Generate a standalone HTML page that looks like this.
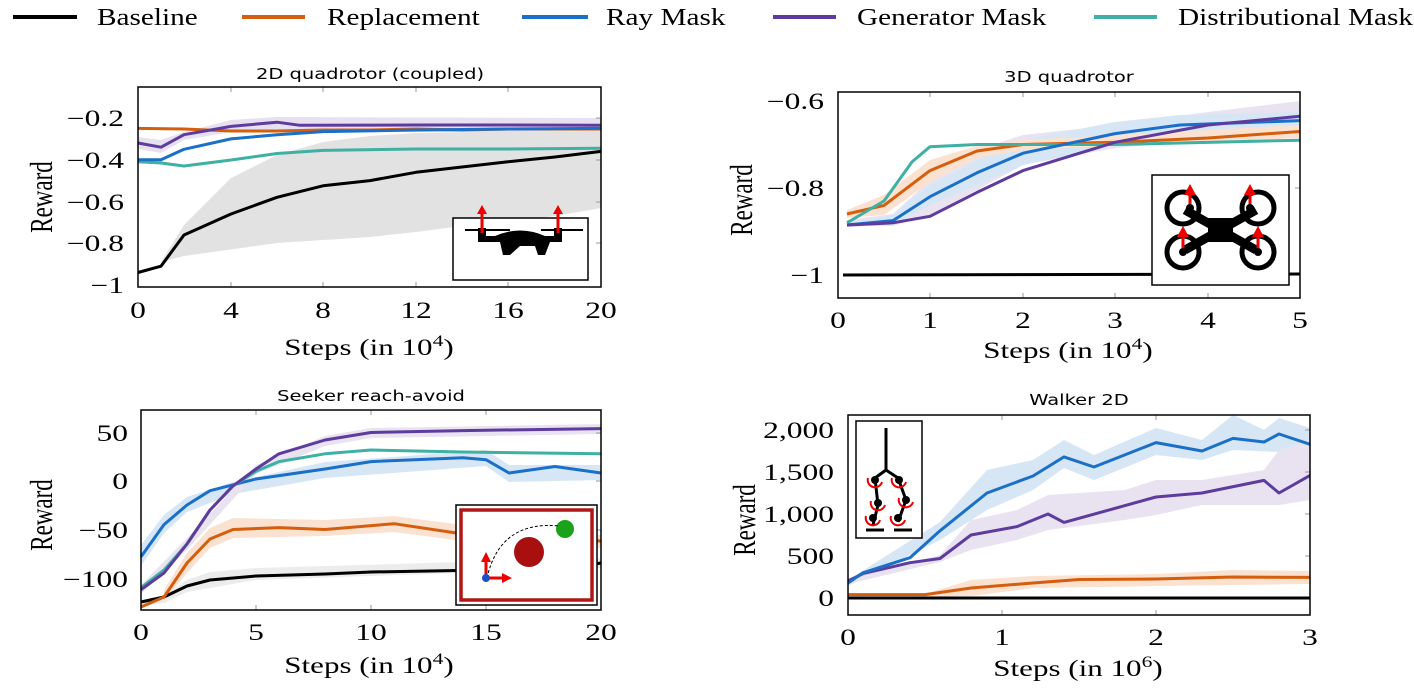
<!DOCTYPE html>
<html><head><meta charset="utf-8"><style>
html,body{margin:0;padding:0;background:#fff;}
svg{display:block;}
.t{font-family:"Liberation Serif",serif;font-size:23px;fill:#000;}
.ti{font-family:"DejaVu Sans","Liberation Sans",sans-serif;font-size:15px;fill:#000;}
.l{fill:none;stroke-width:3;stroke-linejoin:round;}
</style></head><body>
<svg width="1414" height="698" viewBox="0 0 1414 698" xmlns="http://www.w3.org/2000/svg">
<!-- Legend -->
<g class="t" style="font-size:24px">
<line x1="13" y1="17" x2="77" y2="17" stroke="#000" stroke-width="4"/><text transform="translate(97,25) scale(1.22,1)">Baseline</text>
<line x1="242" y1="17" x2="305" y2="17" stroke="#d55e0e" stroke-width="4"/><text transform="translate(327,25) scale(1.22,1)">Replacement</text>
<line x1="522" y1="17" x2="588" y2="17" stroke="#1a6fc8" stroke-width="4"/><text transform="translate(606,25) scale(1.22,1)">Ray Mask</text>
<line x1="773" y1="17" x2="836" y2="17" stroke="#5e3c9e" stroke-width="4"/><text transform="translate(857,25) scale(1.22,1)">Generator Mask</text>
<line x1="1094" y1="17" x2="1157" y2="17" stroke="#3fb0a3" stroke-width="4"/><text transform="translate(1178,25) scale(1.22,1)">Distributional Mask</text>
</g>

<!-- ===== Top-left ===== -->
<text class="ti" text-anchor="middle" transform="translate(370,79) scale(1.3,1)">2D quadrotor (coupled)</text>
<path d="M138,272 L161,262 184,225 231,178 277,155 323,142 370,136 416,133 601,130 L601,208 555,216 508,222 462,226 416,232 370,237 277,243 184,256 161,262 Z" fill="#e2e2e2"/>
<path d="M138,137 L161,140 184,132 231,120 277,117 601,118 L601,132 277,132 231,132 184,140 161,153 138,149Z" fill="#e6e0f0"/>
<g stroke="#999" stroke-width="1">
<line x1="231" y1="87" x2="231" y2="92"/><line x1="323" y1="87" x2="323" y2="92"/><line x1="416" y1="87" x2="416" y2="92"/><line x1="508" y1="87" x2="508" y2="92"/>
<line x1="231" y1="287" x2="231" y2="282"/><line x1="323" y1="287" x2="323" y2="282"/><line x1="416" y1="287" x2="416" y2="282"/><line x1="508" y1="287" x2="508" y2="282"/>
<line x1="596" y1="118" x2="601" y2="118"/><line x1="596" y1="160" x2="601" y2="160"/><line x1="596" y1="202" x2="601" y2="202"/><line x1="596" y1="243" x2="601" y2="243"/>
</g>
<polyline class="l" stroke="#d55e0e" points="138,128.4 184,129 231,131 277,131 323,130 370,130 416,129 462,130 508,129 555,129 601,129"/>
<polyline class="l" stroke="#3fb0a3" points="138,161.8 161,163 184,166 231,160 277,153.5 323,150.4 416,149 508,149 601,148.3"/>
<polyline class="l" stroke="#1a6fc8" points="138,159.8 161,159.8 184,149.3 231,138.9 277,134.7 323,131.6 416,130 508,129 601,128.4"/>
<polyline class="l" stroke="#5e3c9e" points="138,143 161,147.2 184,134.7 231,126.4 277,122.2 300,125.3 416,125 508,125 601,125.3"/>
<polyline class="l" stroke="#000" points="138,272.5 161,266.2 184,235 231,214 277,197.3 323,185.8 370,180.6 416,172.3 462,167 508,161.8 555,157 601,151.4"/>
<rect x="453" y="218" width="135" height="62" fill="#fff" stroke="#000" stroke-width="1.5"/>
<g fill="#000">
<path d="M465,229 L510,229 L510,231 L465,231Z M541,229 L583,229 L583,231 L541,231Z"/>
<path d="M478,236 L495,236 Q520,225 545,236 L562,236 L562,242 L550,242 L545,255 L538,255 L535,246 L525,246 L520,246 L510,255 L503,255 L500,242 L478,242Z"/>
<rect x="478" y="228" width="8" height="10"/><rect x="554" y="228" width="8" height="10"/>
</g>
<g stroke="#e00" stroke-width="3" fill="#e00">
<line x1="482" y1="233" x2="482" y2="213"/><path d="M477,214 L482,205 L487,214Z" stroke="none"/>
<line x1="558" y1="233" x2="558" y2="213"/><path d="M553,214 L558,205 L563,214Z" stroke="none"/>
</g>
<rect x="138" y="87" width="463" height="200" fill="none" stroke="#000" stroke-width="1.5"/>
<g class="t" text-anchor="end">
<text transform="translate(124,126) scale(1.37,1)">−0.2</text><text transform="translate(124,168) scale(1.37,1)">−0.4</text><text transform="translate(124,210) scale(1.37,1)">−0.6</text><text transform="translate(124,251) scale(1.37,1)">−0.8</text><text transform="translate(124,293) scale(1.37,1)">−1</text>
</g>
<g class="t" text-anchor="middle">
<text transform="translate(138,318) scale(1.37,1)">0</text><text transform="translate(231,318) scale(1.37,1)">4</text><text transform="translate(323,318) scale(1.37,1)">8</text><text transform="translate(416,318) scale(1.37,1)">12</text><text transform="translate(508,318) scale(1.37,1)">16</text><text transform="translate(601,318) scale(1.37,1)">20</text>
<text transform="translate(369,355) scale(1.35,1)">Steps (in 10<tspan dy="-9" font-size="16">4</tspan><tspan dy="9">)</tspan></text>
<text transform="translate(52,197) rotate(-90) scale(1,1.37)">Reward</text>
</g>

<!-- ===== Top-right ===== -->
<text class="ti" text-anchor="middle" transform="translate(1069,82) scale(1.3,1)">3D quadrotor</text>
<path d="M847,220 L893,214 930,180 977,150 1023,135 1115,125 1208,112 1300,101 L1300,138 1208,140 1115,148 1023,165 977,190 930,215 893,226 847,226Z" fill="#e9e3f1"/>
<path d="M847,223 L893,215 930,185 977,160 1023,140 1115,122 1180,115 1300,112 L1300,128 1180,132 1115,145 1023,165 977,185 930,205 893,225 847,227Z" fill="#d6e6f5"/>
<path d="M847,210 L884,195 930,160 977,146 1023,140 1300,125 L1300,138 1023,150 977,158 930,182 884,215 847,218Z" fill="#fbe1cf"/>
<g stroke="#999" stroke-width="1">
<line x1="930" y1="92" x2="930" y2="97"/><line x1="1023" y1="92" x2="1023" y2="97"/><line x1="1115" y1="92" x2="1115" y2="97"/><line x1="1208" y1="92" x2="1208" y2="97"/>
<line x1="930" y1="298" x2="930" y2="293"/><line x1="1023" y1="298" x2="1023" y2="293"/><line x1="1115" y1="298" x2="1115" y2="293"/><line x1="1208" y1="298" x2="1208" y2="293"/>
<line x1="1295" y1="188" x2="1300" y2="188"/>
</g>
<line x1="843" y1="275" x2="1300" y2="274" stroke="#000" stroke-width="3"/>
<polyline class="l" stroke="#d55e0e" points="847,214 884,205.4 930,170.6 977,151 1023,144.5 1115,142.3 1208,138 1300,131.5"/>
<polyline class="l" stroke="#3fb0a3" points="847,222.8 884,201 912,161.9 930,146.7 977,144.5 1115,144.5 1300,140.2"/>
<polyline class="l" stroke="#1a6fc8" points="847,225 893,220.6 930,196.7 977,172.8 1023,153.2 1115,133.6 1180,125 1300,120.6"/>
<polyline class="l" stroke="#5e3c9e" points="847,225 893,222.8 930,216.3 977,192.4 1023,170.6 1115,142.3 1208,125 1300,116.2"/>
<rect x="1152" y="175" width="137" height="110" fill="#fff" stroke="#000" stroke-width="1.5"/>
<g fill="none" stroke="#000" stroke-width="5">
<circle cx="1183" cy="208" r="16"/><circle cx="1258" cy="208" r="16"/><circle cx="1183" cy="252" r="16"/><circle cx="1258" cy="252" r="16"/>
<line x1="1185" y1="210" x2="1256" y2="250" stroke-width="9"/><line x1="1256" y1="210" x2="1185" y2="250" stroke-width="9"/>
</g>
<rect x="1208" y="218" width="25" height="24" fill="#000"/>
<g fill="#e00" stroke="#e00" stroke-width="3">
<line x1="1190" y1="208" x2="1190" y2="193"/><path d="M1184,195 L1190,184 L1196,195Z" stroke="none"/>
<line x1="1250" y1="208" x2="1250" y2="193"/><path d="M1244,195 L1250,184 L1256,195Z" stroke="none"/>
<line x1="1183" y1="252" x2="1183" y2="235"/><path d="M1177,237 L1183,226 L1189,237Z" stroke="none"/>
<line x1="1258" y1="252" x2="1258" y2="235"/><path d="M1252,237 L1258,226 L1264,237Z" stroke="none"/>
</g>
<g fill="#000"><circle cx="1183" cy="252" r="4"/><circle cx="1258" cy="252" r="4"/><circle cx="1190" cy="208" r="4"/><circle cx="1250" cy="208" r="4"/></g>
<rect x="838" y="92" width="462" height="206" fill="none" stroke="#000" stroke-width="1.5"/>
<g class="t" text-anchor="end">
<text transform="translate(824,109) scale(1.37,1)">−0.6</text><text transform="translate(824,196) scale(1.37,1)">−0.8</text><text transform="translate(824,283) scale(1.37,1)">−1</text>
</g>
<g class="t" text-anchor="middle">
<text transform="translate(838,328) scale(1.37,1)">0</text><text transform="translate(930,328) scale(1.37,1)">1</text><text transform="translate(1023,328) scale(1.37,1)">2</text><text transform="translate(1115,328) scale(1.37,1)">3</text><text transform="translate(1208,328) scale(1.37,1)">4</text><text transform="translate(1300,328) scale(1.37,1)">5</text>
<text transform="translate(1068,358) scale(1.35,1)">Steps (in 10<tspan dy="-9" font-size="16">4</tspan><tspan dy="9">)</tspan></text>
<text transform="translate(752,200) rotate(-90) scale(1,1.37)">Reward</text>
</g>

<!-- ===== Bottom-left ===== -->
<text class="ti" text-anchor="middle" transform="translate(371,401) scale(1.3,1)">Seeker reach-avoid</text>
<path d="M141,600 L164,595 187,580 210,572 256,568 601,558 L601,568 256,580 210,588 187,592 164,603 141,606Z" fill="#ececec"/>
<path d="M164,590 L187,553 210,528 233,518 325,520 394,516 486,528 601,535 L601,548 486,544 394,532 325,536 233,538 210,548 187,573 164,600Z" fill="#fbe1cf"/>
<path d="M141,545 L164,515 187,497 233,482 325,462 486,450 509,465 601,465 L601,480 509,482 486,466 325,478 233,494 187,512 164,533 141,566Z" fill="#d6e6f5"/>
<path d="M141,585 L187,538 256,465 325,436 371,428 601,424 L601,434 371,438 325,446 256,474 187,550 141,594Z" fill="#e9e3f1"/>
<g stroke="#999" stroke-width="1">
<line x1="256" y1="410" x2="256" y2="415"/><line x1="371" y1="410" x2="371" y2="415"/><line x1="486" y1="410" x2="486" y2="415"/>
<line x1="256" y1="610" x2="256" y2="605"/><line x1="371" y1="610" x2="371" y2="605"/><line x1="486" y1="610" x2="486" y2="605"/>
<line x1="596" y1="433" x2="601" y2="433"/><line x1="596" y1="481" x2="601" y2="481"/><line x1="596" y1="530" x2="601" y2="530"/>
</g>
<polyline class="l" stroke="#000" points="141,602 164,597 187,586 210,580 256,576 325,574 371,572 486,570 555,571 601,563"/>
<polyline class="l" stroke="#d55e0e" points="141,607 164,597 187,563 210,539 233,529.5 279,527.6 325,529.5 394,523.7 463,534 509,537 555,539 601,541"/>
<polyline class="l" stroke="#1a6fc8" points="141,556.7 164,524.6 187,505 210,490.7 256,479 325,469 371,461.6 463,457.7 486,459.7 509,473 555,466.5 601,473"/>
<polyline class="l" stroke="#3fb0a3" points="141,587.7 164,570 187,544 210,510 233,485.9 256,471.3 279,461.6 325,453.8 371,450 463,452 601,453.8"/>
<polyline class="l" stroke="#5e3c9e" points="141,589.6 164,573 187,544 210,510 233,485.9 256,469 279,453.8 325,440 371,432.5 463,430.6 601,428.6"/>
<rect x="456" y="505" width="141" height="100" fill="#fff" stroke="#000" stroke-width="1.5"/>
<rect x="461" y="510" width="131" height="90" fill="none" stroke="#b01616" stroke-width="3.5"/>
<circle cx="529" cy="552" r="15" fill="#a81010"/>
<circle cx="565" cy="529" r="9" fill="#1aa31a"/>
<path d="M487,578 Q500,520 560,526" fill="none" stroke="#000" stroke-width="1" stroke-dasharray="3,2"/>
<g stroke="#e00" stroke-width="3" fill="#e00">
<line x1="486" y1="578" x2="486" y2="560"/><path d="M481,562 L486,552 L491,562Z" stroke="none"/>
<line x1="486" y1="578" x2="504" y2="578"/><path d="M502,573 L512,578 L502,583Z" stroke="none"/>
</g>
<circle cx="486" cy="578" r="4" fill="#1a4fc8"/>
<rect x="141" y="410" width="460" height="200" fill="none" stroke="#000" stroke-width="1.5"/>
<g class="t" text-anchor="end">
<text transform="translate(128,441) scale(1.37,1)">50</text><text transform="translate(128,489) scale(1.37,1)">0</text><text transform="translate(128,538) scale(1.37,1)">−50</text><text transform="translate(128,587) scale(1.37,1)">−100</text>
</g>
<g class="t" text-anchor="middle">
<text transform="translate(141,640) scale(1.37,1)">0</text><text transform="translate(256,640) scale(1.37,1)">5</text><text transform="translate(371,640) scale(1.37,1)">10</text><text transform="translate(486,640) scale(1.37,1)">15</text><text transform="translate(601,640) scale(1.37,1)">20</text>
<text transform="translate(369,673) scale(1.35,1)">Steps (in 10<tspan dy="-9" font-size="16">4</tspan><tspan dy="9">)</tspan></text>
<text transform="translate(52,515) rotate(-90) scale(1,1.37)">Reward</text>
</g>

<!-- ===== Bottom-right ===== -->
<text class="ti" text-anchor="middle" transform="translate(1079,405) scale(1.3,1)">Walker 2D</text>
<path d="M848,580 L940,522 987,470 1033,460 1064,440 1094,455 1156,428 1202,440 1233,415 1264,430 1279,418 1310,428 L1310,455 1279,452 1233,450 1202,460 1156,455 1094,480 1064,468 1033,490 987,510 940,540 848,586Z" fill="#d6e6f5"/>
<path d="M848,578 L940,555 971,520 1017,510 1048,495 1125,490 1156,480 1202,480 1264,470 1279,450 1310,440 L1310,500 1279,505 1202,505 1156,515 1125,520 1048,530 1017,540 971,550 940,562 848,584Z" fill="#e9e3f1"/>
<path d="M925,594 L971,580 1033,576 1156,574 1233,570 1310,571 L1310,584 1233,585 1156,586 1033,588 971,596 925,597Z" fill="#fbe1cf"/>
<g stroke="#999" stroke-width="1">
<line x1="1002" y1="415" x2="1002" y2="420"/><line x1="1156" y1="415" x2="1156" y2="420"/>
<line x1="1002" y1="615" x2="1002" y2="610"/><line x1="1156" y1="615" x2="1156" y2="610"/>
<line x1="1305" y1="430" x2="1310" y2="430"/><line x1="1305" y1="472" x2="1310" y2="472"/><line x1="1305" y1="514" x2="1310" y2="514"/><line x1="1305" y1="556" x2="1310" y2="556"/>
</g>
<line x1="848" y1="598" x2="1310" y2="598" stroke="#000" stroke-width="3"/>
<polyline class="l" stroke="#d55e0e" points="848,594.6 925,594.6 971,588 1033,583 1079,579.5 1156,579 1233,577 1310,577.4"/>
<polyline class="l" stroke="#5e3c9e" points="848,581 863,573.6 910,562.7 940,558.5 971,535 1017,526.6 1048,514 1064,522.4 1125,505.6 1156,497 1202,493 1264,480.4 1279,493 1310,475.4"/>
<polyline class="l" stroke="#1a6fc8" points="848,583 863,572.8 910,557.7 940,530.8 987,493 1033,476 1064,456.9 1094,467 1156,442.6 1202,451 1233,438.4 1264,442 1279,434 1310,444.3"/>
<rect x="856" y="421" width="66" height="117" fill="#fff" stroke="#000" stroke-width="1.5"/>
<g stroke="#000" stroke-width="3" fill="none">
<line x1="886" y1="428" x2="886" y2="470"/>
<polyline points="886,470 875,478 878,505 873,525"/><polyline points="886,470 898,478 906,500 898,522"/>
<line x1="866" y1="530" x2="884" y2="530"/><line x1="894" y1="530" x2="912" y2="530"/>
</g>
<g fill="#000"><circle cx="875" cy="480" r="4"/><circle cx="899" cy="480" r="4"/><circle cx="878" cy="503" r="4"/><circle cx="906" cy="500" r="4"/><circle cx="873" cy="518" r="4"/><circle cx="898" cy="518" r="4"/></g>
<g stroke="#e00" stroke-width="2" fill="none">
<path d="M868,478 a7,7 0 1 0 14,4"/><path d="M892,478 a7,7 0 1 0 14,4"/><path d="M871,501 a7,7 0 1 0 14,4"/><path d="M899,498 a7,7 0 1 0 14,4"/><path d="M866,516 a7,7 0 1 0 14,4"/><path d="M891,516 a7,7 0 1 0 14,4"/>
</g>
<rect x="848" y="415" width="462" height="200" fill="none" stroke="#000" stroke-width="1.5"/>
<g class="t" text-anchor="end">
<text transform="translate(834,438) scale(1.37,1)">2,000</text><text transform="translate(834,480) scale(1.37,1)">1,500</text><text transform="translate(834,522) scale(1.37,1)">1,000</text><text transform="translate(834,564) scale(1.37,1)">500</text><text transform="translate(834,606) scale(1.37,1)">0</text>
</g>
<g class="t" text-anchor="middle">
<text transform="translate(848,645) scale(1.37,1)">0</text><text transform="translate(1002,645) scale(1.37,1)">1</text><text transform="translate(1156,645) scale(1.37,1)">2</text><text transform="translate(1310,645) scale(1.37,1)">3</text>
<text transform="translate(1078,676) scale(1.35,1)">Steps (in 10<tspan dy="-9" font-size="16">6</tspan><tspan dy="9">)</tspan></text>
<text transform="translate(755,520) rotate(-90) scale(1,1.37)">Reward</text>
</g>
</svg>
</body></html>
